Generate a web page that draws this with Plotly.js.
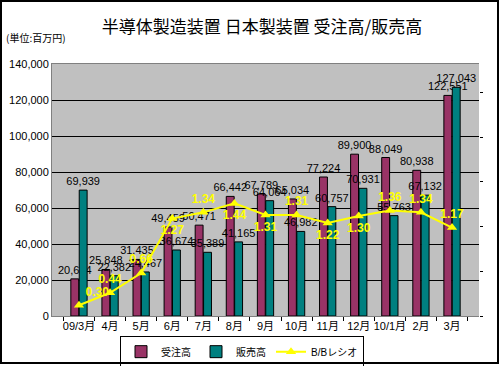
<!DOCTYPE html>
<html><head><meta charset="utf-8">
<script src="https://cdn.plot.ly/plotly-3.0.1.min.js"></script>
<style>html,body{margin:0;padding:0;background:#fff}#c{width:500px;height:366px}
#frame{position:absolute;left:0;top:0;width:499px;height:364px;border:2px solid #000;box-sizing:border-box;pointer-events:none}</style>
</head><body><div id="c"></div><div id="frame"></div>
<script>
const categories = ['09/3月','4月','5月','6月','7月','8月','9月','10月','11月','12月','10/1月','2月','3月'];
const orders = [20634, 25848, 31435, 49459, 50471, 66442, 67789, 65034, 77224, 89900, 88049, 80938, 122551];
const sales = [69939, 22382, 24467, 36674, 35389, 41165, 64064, 46982, 60757, 70931, 55763, 67132, 127043];
const bbRatio = [0.30, 0.44, 0.66, 1.27, 1.34, 1.44, 1.31, 1.31, 1.22, 1.30, 1.36, 1.34, 1.17];
const ratioLabelPos = ['top right','top center','top center','bottom center','top center','bottom center','bottom center','top center','bottom center','bottom center','top center','top center','top center'];

const F = 'Liberation Sans, Arial, Noto Sans CJK JP, sans-serif';
const traces = [
  {type:'bar', name:'受注高', x:categories, y:orders, marker:{color:'#993366', line:{color:'#000', width:1}},
   texttemplate:'%{y:,}', textposition:'outside', textangle:0, constraintext:'none', cliponaxis:false,
   textfont:{family:F, size:11, color:'#000'}},
  {type:'bar', name:'販売高', x:categories, y:sales, marker:{color:'#008080', line:{color:'#000', width:1}},
   texttemplate:'%{y:,}', textposition:'outside', textangle:0, constraintext:'none', cliponaxis:false,
   textfont:{family:F, size:11, color:'#000'}},
  {type:'scatter', mode:'lines+markers+text', name:'B/Bレシオ', x:categories, y:bbRatio, yaxis:'y2',
   line:{color:'#FFFF00', width:2}, marker:{symbol:'triangle-up', size:9, color:'#FFFF00'},
   text:bbRatio.map(v=>v.toFixed(2)), textposition:ratioLabelPos, cliponaxis:false,
   textfont:{family:F, size:12, color:'#FFFF00', weight:'bold'}}
];
const layout = {
  width:500, height:366, margin:{l:52, r:21, t:64, b:50, autoexpand:false},
  paper_bgcolor:'#fff', plot_bgcolor:'#C0C0C0',
  font:{family:F, size:11, color:'#000'},
  title:{text:'半導体製造装置 日本製装置 受注高/販売高', font:{family:'Noto Sans CJK JP', size:17, color:'#000'},
         xref:'container', x:0.524, xanchor:'center', yref:'container', y:0.926, yanchor:'middle'},
  barmode:'group', bargap:0.46, bargroupgap:0.06,
  xaxis:{type:'category', showline:true, linecolor:'#808080', mirror:true, ticks:'outside', tickson:'boundaries',
         ticklen:4, tickcolor:'#000', tickangle:0, automargin:false, tickfont:{family:F, size:11}, showgrid:false},
  yaxis:{range:[0,140000], dtick:20000, tickformat:',.0f', showgrid:true, gridcolor:'#000', gridwidth:1, automargin:false,
         showline:true, linecolor:'#808080', ticks:'', tickfont:{family:F, size:11}, zeroline:false},
  yaxis2:{overlaying:'y', side:'right', range:[0.18,3.0], tickmode:'linear', tick0:0.18, dtick:0.5, automargin:false,
          showticklabels:false, ticks:'outside', ticklen:3, tickcolor:'#000', showgrid:false, zeroline:false, showline:false},
  legend:{orientation:'h', x:0.445, xanchor:'center', y:-0.08, yanchor:'top', bgcolor:'#fff',
          bordercolor:'#000', borderwidth:1, font:{family:F, size:10}, itemwidth:30, tracegroupgap:0},
  annotations:[{text:'(単位:百万円)', xref:'paper', yref:'paper', x:-0.112, y:1.107, xanchor:'left', yanchor:'middle',
                showarrow:false, font:{family:'Noto Sans CJK JP', size:10, color:'#000'}}],
  showlegend:true
};
Plotly.newPlot('c', traces, layout, {displayModeBar:false, staticPlot:true});
</script></body></html>
